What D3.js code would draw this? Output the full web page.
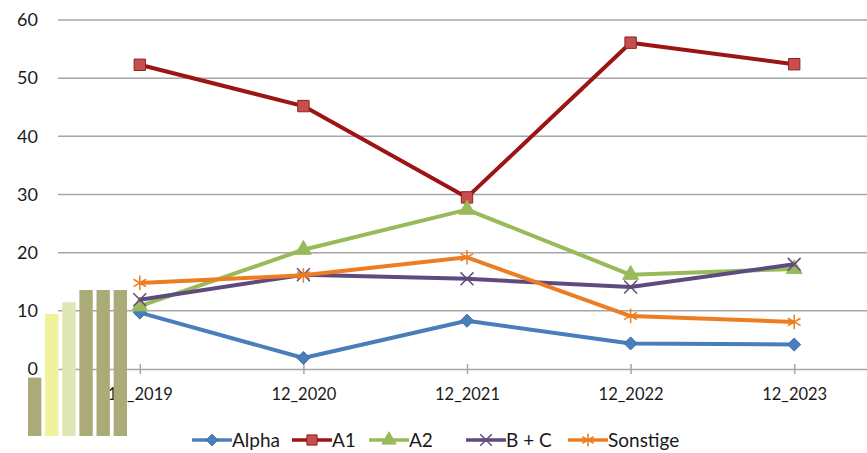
<!DOCTYPE html>
<html>
<head>
<meta charset="utf-8">
<script src="https://cdn.jsdelivr.net/npm/d3@7"></script>
<style>
  body { margin: 0; background: #fff; }
  svg text { font-family: Lato, "Open Sans", sans-serif; fill: #1a1a1a; }
</style>
</head>
<body>
<div id="chart"></div>
<script>
// data
var categories = ["12_2019", "12_2020", "12_2021", "12_2022", "12_2023"];
var yTicks = [0, 10, 20, 30, 40, 50, 60];
var seriesNames = ["Alpha", "A1", "A2", "B + C", "Sonstige"];
var alpha = [9.7, 1.9, 8.3, 4.4, 4.2];
var a1 = [52.3, 45.2, 29.5, 56.1, 52.4];
var a2 = [10.8, 20.5, 27.4, 16.2, 17.2];
var bc = [11.9, 16.2, 15.5, 14.1, 18.0];
var sonstige = [14.8, 16.1, 19.2, 9.1, 8.1];
// little bar graphic lying over the bottom left corner
var overlayBars = [1, 2.09, 2.29, 2.5, 2.5, 2.5];

var svgWidth = 867;
var svgHeight = 453;

var margin = { top: 20, right: -9, bottom: 84, left: 58 };
var width = svgWidth - margin.left - margin.right;
var height = svgHeight - margin.top - margin.bottom;

var svg = d3.select("#chart")
  .append("svg")
  .attr("width", svgWidth)
  .attr("height", svgHeight);

var chartGroup = svg.append("g")
  .attr("transform", `translate(${margin.left}, ${margin.top})`);

var xScale = d3.scalePoint()
  .domain(categories)
  .range([0, width])
  .padding(0.5);

var yScale = d3.scaleLinear()
  .domain([0, 60])
  .range([height, 0]);

// gridlines
chartGroup.selectAll(".grid")
  .data(yTicks.filter(d => d > 0))
  .enter()
  .append("line")
  .attr("x1", 0)
  .attr("x2", width)
  .attr("y1", d => yScale(d))
  .attr("y2", d => yScale(d))
  .attr("stroke", "#a6a6a6")
  .attr("stroke-width", 1.5);

// y labels
var leftAxis = d3.axisLeft(yScale).tickValues(yTicks).tickSize(0).tickPadding(20);
var yAxisG = chartGroup.append("g").call(leftAxis);
yAxisG.select(".domain").remove();
yAxisG.selectAll("text").style("font-size", "18px").attr("fill", "#1a1a1a");

// x axis
var bottomAxis = d3.axisBottom(xScale).tickSizeInner(5).tickSizeOuter(0).tickPadding(14);
var xAxisG = chartGroup.append("g")
  .attr("transform", `translate(0, ${height})`)
  .call(bottomAxis);
xAxisG.select(".domain").attr("stroke", "#a6a6a6").attr("stroke-width", 1.5);
xAxisG.selectAll(".tick line")
  .attr("y1", -5)
  .attr("stroke", "#a6a6a6")
  .attr("stroke-width", 1.5);
xAxisG.selectAll("text").style("font-size", "16.5px").attr("fill", "#1a1a1a");

// square diamond like the spreadsheet marker
var wideDiamond = {
  draw: function(context, size) {
    var r = Math.sqrt(size / 2);
    context.moveTo(0, -r);
    context.lineTo(r, 0);
    context.lineTo(0, r);
    context.lineTo(-r, 0);
    context.closePath();
  }
};

var series = [
  { name: seriesNames[0], values: alpha, line: "#4a7ebb", fill: "#4a7ebb", stroke: "#3d6fa8", symbol: wideDiamond, size: 85 },
  { name: seriesNames[1], values: a1, line: "#9c1515", fill: "#c44f4d", stroke: "#962020", symbol: d3.symbolSquare, size: 130 },
  { name: seriesNames[2], values: a2, line: "#98bb5a", fill: "#98bb5a", stroke: "#98bb5a", symbol: d3.symbolTriangle, size: 110 },
  { name: seriesNames[3], values: bc, line: "#5e4a7e", fill: "none", stroke: "#5e4a7e", symbol: d3.symbolX, size: 110 },
  { name: seriesNames[4], values: sonstige, line: "#ed7d22", fill: "none", stroke: "#ed7d22", symbol: d3.symbolAsterisk, size: 150 }
];

var lineGen = d3.line()
  .x((d, i) => xScale(categories[i]))
  .y(d => yScale(d));

series.forEach(function(s) {
  chartGroup.append("path")
    .datum(s.values)
    .attr("d", lineGen)
    .attr("fill", "none")
    .attr("stroke", s.line)
    .attr("stroke-width", 4)
    .attr("stroke-linejoin", "round");

  chartGroup.selectAll(null)
    .data(s.values)
    .enter()
    .append("path")
    .attr("d", d3.symbol().type(s.symbol).size(s.size))
    .attr("transform", (d, i) => `translate(${xScale(categories[i])}, ${yScale(d)})`)
    .attr("fill", s.fill)
    .attr("stroke", s.stroke)
    .attr("stroke-width", s.fill === "none" ? 1.5 : 1);
});

// legend
var legendX = [192, 292, 369, 466, 568];
var legend = svg.append("g").attr("transform", "translate(0, 440)");
series.forEach(function(s, i) {
  var g = legend.append("g").attr("transform", `translate(${legendX[i]}, 0)`);
  g.append("line")
    .attr("x1", 0).attr("x2", 40)
    .attr("stroke", s.line)
    .attr("stroke-width", 3.5);
  g.append("path")
    .attr("d", d3.symbol().type(s.symbol).size(s.size * 0.8))
    .attr("transform", "translate(20, 0)")
    .attr("fill", s.fill)
    .attr("stroke", s.stroke)
    .attr("stroke-width", s.fill === "none" ? 1.5 : 1);
  g.append("text")
    .attr("x", 40)
    .attr("dy", "0.35em")
    .style("font-size", "19px")
    .text(s.name);
});

// overlay bar graphic
var overlayX = d3.scaleBand()
  .domain(d3.range(overlayBars.length))
  .range([28, 127])
  .paddingInner(0.22);
var overlayY = d3.scaleLinear()
  .domain([0, 2.5])
  .range([436, 290]);
var overlayColors = ["#aaab78", "#eef39c", "#dfe6b3", "#aaab78", "#aaab78", "#aaab78"];
svg.append("g")
  .selectAll("rect")
  .data(overlayBars)
  .enter()
  .append("rect")
  .attr("x", (d, i) => overlayX(i))
  .attr("width", overlayX.bandwidth())
  .attr("y", d => overlayY(d))
  .attr("height", d => overlayY(0) - overlayY(d))
  .attr("fill", (d, i) => overlayColors[i]);
</script>
</body>
</html>
